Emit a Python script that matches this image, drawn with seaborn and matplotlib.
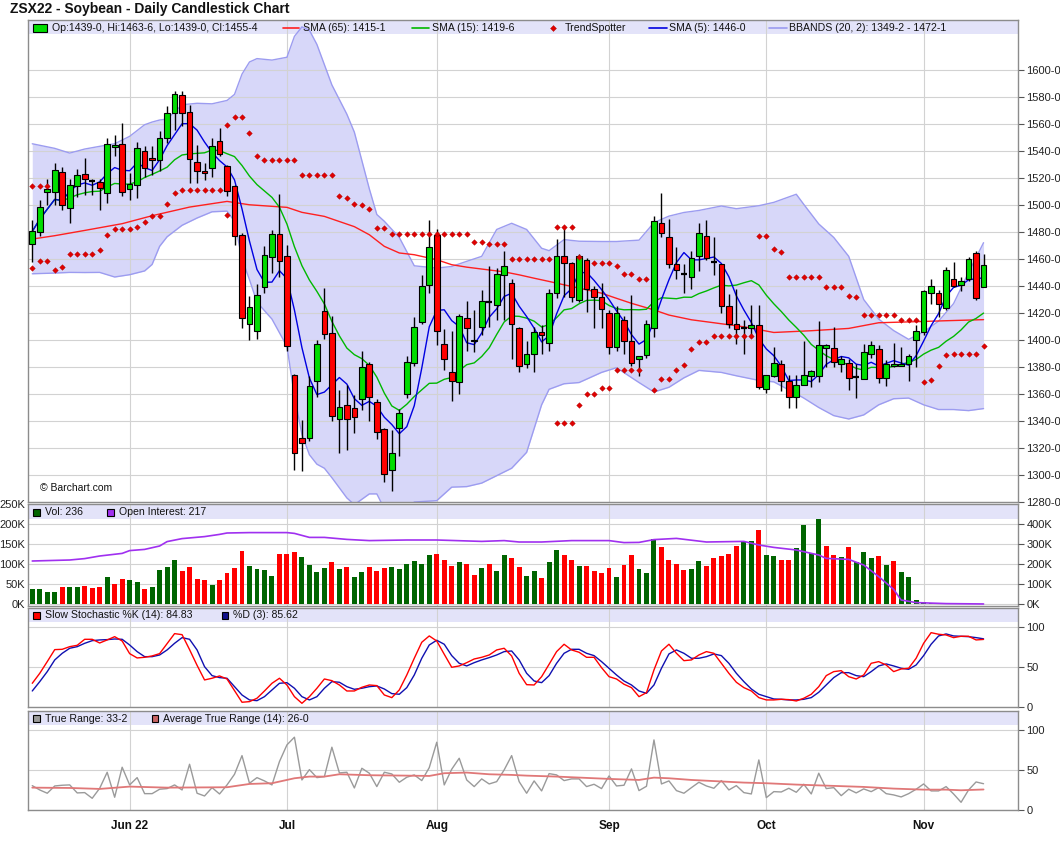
import numpy as np
import pandas as pd
import matplotlib
matplotlib.use("Agg")
import matplotlib.pyplot as plt
import seaborn as sns
from matplotlib.patches import Rectangle
from matplotlib.lines import Line2D

# ---------------- data ----------------
open_ = [1471.3, 1479.7, 1509.6, 1509.4, 1524.4, 1497.8, 1514.3, 1523.0, 1517.5, 1516.8,
         1508.9, 1543.0, 1545.2, 1511.8, 1514.5, 1540.0, 1534.8, 1533.6, 1549.6, 1568.0,
         1581.2, 1569.0, 1532.0, 1525.4, 1527.4, 1547.4, 1528.6, 1513.8, 1477.8, 1412.0,
         1406.9, 1439.3, 1461.5, 1478.5, 1462.2, 1374.0, 1327.4, 1327.4, 1369.3, 1421.7,
         1405.2, 1341.4, 1351.5, 1349.6, 1356.0, 1382.5, 1354.0, 1334.0, 1304.0, 1335.0,
         1360.0, 1383.0, 1413.0, 1441.0, 1478.0, 1397.0, 1376.0, 1369.0, 1416.0, 1399.0,
         1410.0, 1428.4, 1426.0, 1448.0, 1442.0, 1409.0, 1382.0, 1390.0, 1406.0, 1398.0,
         1435.0, 1462.0, 1457.0, 1430.0, 1459.0, 1438.0, 1432.0, 1420.0, 1395.0, 1415.0,
         1399.0, 1386.0, 1389.0, 1409.0, 1487.0, 1476.0, 1456.0, 1449.0, 1447.0, 1462.0,
         1477.0, 1457.5, 1456.0, 1425.0, 1412.0, 1409.0, 1409.0, 1411.0, 1364.0, 1373.0,
         1382.5, 1370.0, 1358.0, 1367.0, 1373.0, 1373.0, 1394.0, 1394.0, 1382.0, 1383.0,
         1372.6, 1371.0, 1390.0, 1393.0, 1372.0, 1381.0, 1381.0, 1382.0, 1400.0, 1406.0,
         1435.0, 1435.0, 1424.0, 1445.0, 1441.0, 1445.0, 1464.5, 1439.0]
high = [1489.0, 1504.0, 1519.5, 1531.0, 1528.0, 1519.5, 1526.6, 1534.8, 1519.5, 1519.5,
        1549.6, 1551.6, 1560.7, 1523.7, 1547.0, 1543.4, 1543.4, 1554.6, 1573.6, 1584.7,
        1584.7, 1574.3, 1544.7, 1531.0, 1549.6, 1557.0, 1530.0, 1515.0, 1479.2, 1432.3,
        1441.7, 1469.4, 1481.2, 1508.0, 1470.6, 1375.0, 1341.0, 1373.0, 1400.2, 1438.5,
        1418.0, 1363.0, 1367.0, 1359.5, 1392.0, 1384.0, 1356.0, 1334.5, 1333.0, 1349.0,
        1388.0, 1417.0, 1448.0, 1489.0, 1482.0, 1408.0, 1407.0, 1419.0, 1429.0, 1422.0,
        1437.0, 1455.0, 1453.0, 1466.0, 1445.0, 1410.0, 1399.0, 1410.0, 1411.0, 1438.0,
        1475.0, 1484.0, 1458.0, 1464.0, 1461.0, 1440.0, 1442.0, 1422.0, 1425.0, 1418.0,
        1433.0, 1388.5, 1415.0, 1492.0, 1509.0, 1490.0, 1469.0, 1456.0, 1466.0, 1487.0,
        1489.0, 1476.0, 1456.0, 1434.0, 1438.0, 1415.0, 1426.0, 1426.0, 1374.0, 1395.0,
        1385.0, 1374.0, 1374.0, 1399.0, 1378.0, 1414.0, 1397.0, 1410.0, 1388.0, 1386.0,
        1382.5, 1397.0, 1399.0, 1396.0, 1385.0, 1398.0, 1395.0, 1390.0, 1411.0, 1437.0,
        1445.0, 1437.0, 1454.0, 1458.0, 1447.0, 1461.5, 1466.0, 1463.75]
low = [1457.5, 1476.8, 1500.0, 1500.0, 1496.5, 1487.0, 1506.0, 1507.6, 1507.6, 1496.0,
       1501.5, 1536.0, 1506.4, 1504.0, 1505.0, 1521.0, 1522.5, 1525.0, 1546.0, 1555.8,
       1558.3, 1516.3, 1516.3, 1518.7, 1521.0, 1536.0, 1506.4, 1470.6, 1409.0, 1400.0,
       1400.7, 1434.8, 1449.6, 1447.0, 1391.6, 1304.0, 1302.7, 1325.0, 1358.0, 1401.0,
       1339.7, 1316.0, 1318.8, 1331.0, 1348.0, 1340.0, 1327.0, 1295.0, 1288.0, 1314.0,
       1357.0, 1381.0, 1412.0, 1435.0, 1396.0, 1378.0, 1355.0, 1360.0, 1392.0, 1391.0,
       1404.0, 1410.0, 1415.0, 1415.0, 1386.0, 1376.0, 1379.0, 1376.0, 1390.0, 1392.0,
       1431.0, 1432.0, 1428.0, 1428.5, 1421.0, 1409.0, 1409.0, 1390.0, 1392.0, 1390.0,
       1381.0, 1373.0, 1387.0, 1402.0, 1476.0, 1453.0, 1445.0, 1435.0, 1438.0, 1451.0,
       1459.0, 1448.0, 1420.0, 1409.0, 1397.0, 1390.0, 1402.0, 1364.0, 1361.0, 1372.6,
       1362.0, 1349.5, 1350.0, 1367.0, 1365.0, 1369.0, 1380.0, 1380.0, 1376.0, 1363.0,
       1357.0, 1371.0, 1387.0, 1368.0, 1366.0, 1380.0, 1381.0, 1370.0, 1380.0, 1404.0,
       1427.0, 1417.0, 1422.0, 1439.0, 1436.0, 1444.0, 1430.0, 1439.0]
close = [1480.5, 1498.5, 1511.8, 1526.0, 1500.0, 1514.5, 1522.0, 1519.3, 1517.5, 1512.6,
         1545.2, 1544.2, 1509.6, 1515.5, 1542.0, 1527.4, 1533.6, 1549.4, 1568.0, 1582.2,
         1568.0, 1534.0, 1525.4, 1523.7, 1543.7, 1538.0, 1510.4, 1477.3, 1416.3, 1424.2,
         1433.0, 1462.7, 1478.5, 1458.3, 1395.3, 1316.2, 1323.6, 1365.7, 1397.0, 1404.7,
         1343.4, 1350.3, 1341.4, 1343.0, 1380.0, 1358.0, 1332.0, 1301.0, 1316.0, 1346.0,
         1384.0, 1410.0, 1440.0, 1469.0, 1407.0, 1386.0, 1370.0, 1418.0, 1409.0, 1400.0,
         1429.0, 1428.4, 1449.0, 1455.0, 1412.0, 1381.0, 1390.0, 1406.0, 1404.0, 1435.0,
         1462.0, 1457.0, 1432.0, 1462.0, 1438.0, 1432.0, 1423.0, 1395.0, 1420.0, 1399.0,
         1383.0, 1388.0, 1412.0, 1488.0, 1479.0, 1456.0, 1452.0, 1449.0, 1461.0, 1479.0,
         1461.0, 1457.5, 1425.0, 1412.0, 1408.0, 1409.0, 1411.0, 1365.0, 1374.0, 1383.0,
         1370.0, 1358.0, 1367.0, 1374.0, 1377.0, 1396.0, 1396.0, 1384.0, 1386.0, 1372.0,
         1372.6, 1391.0, 1396.0, 1372.0, 1382.0, 1382.5, 1382.5, 1388.0, 1407.0, 1436.0,
         1440.0, 1427.0, 1452.0, 1440.0, 1444.0, 1460.0, 1431.0, 1455.5]

# SMA(65), read at sampled bars (1-based bar numbers)
sma65_bars = [1, 4, 8, 13, 17, 22, 27, 30, 35, 37, 40, 44, 46, 48, 50, 52, 55, 57, 59, 61,
              64, 66, 68, 70, 72, 75, 77, 79, 81, 84, 86, 89, 92, 96, 100, 105, 110, 114,
              119, 123, 128]
sma65_vals = [1474.8, 1477.3, 1481.2, 1486.2, 1492.1, 1498.5, 1502.7, 1500.2, 1498.3, 1494.6,
              1491.6, 1484.0, 1478.0, 1469.4, 1464.5, 1463.2, 1459.5, 1455.8, 1454.0, 1452.6,
              1450.5, 1448.3, 1445.8, 1443.4, 1440.9, 1437.2, 1434.7, 1430.9, 1427.2, 1422.3,
              1418.5, 1415.0, 1412.8, 1409.8, 1405.6, 1406.9, 1408.6, 1412.8, 1413.6, 1414.3,
              1415.1]

# Bollinger bands (20, 2), read at sampled bars
bb_bars = [1, 4, 6, 8, 10, 12, 14, 16, 17, 18, 19, 21, 23, 25, 27, 28, 29, 30, 31, 33,
           35, 36, 37, 38, 39, 40, 41, 43, 44, 46, 47, 48, 50, 52, 55, 57, 59, 61, 63, 65,
           67, 69, 70, 72, 74, 77, 79, 82, 84, 86, 88, 90, 93, 95, 98, 100, 103, 104, 106,
           108, 110, 112, 114, 116, 118, 120, 122, 124, 126, 128]
bb_upper = [1545.4, 1542.0, 1538.5, 1541.5, 1543.5, 1545.4, 1550.9, 1559.5, 1561.5, 1563.0,
            1563.7, 1574.3, 1575.4, 1575.0, 1577.5, 1582.0, 1597.0, 1606.0, 1608.5, 1607.4,
            1609.5, 1625.0, 1632.0, 1629.5, 1619.0, 1604.0, 1589.0, 1567.3, 1554.0, 1512.0,
            1493.0, 1488.0, 1476.0, 1455.0, 1453.3, 1454.5, 1458.3, 1462.0, 1481.9, 1486.5,
            1481.9, 1468.0, 1466.2, 1474.4, 1473.2, 1473.0, 1473.0, 1474.0, 1487.0, 1491.8,
            1494.5, 1496.0, 1499.3, 1497.3, 1499.5, 1502.0, 1508.0, 1500.5, 1486.0, 1476.0,
            1462.0, 1430.0, 1415.5, 1407.0, 1400.5, 1406.0, 1414.0, 1427.0, 1450.0, 1472.1]
bb_lower = [1449.1, 1449.6, 1450.1, 1450.0, 1450.1, 1446.7, 1448.4, 1451.2, 1456.0, 1469.4,
            1476.5, 1485.0, 1490.4, 1495.0, 1495.5, 1488.0, 1460.0, 1444.7, 1428.0, 1415.5,
            1395.3, 1358.6, 1330.0, 1315.0, 1308.0, 1305.0, 1298.0, 1283.0, 1278.0, 1286.0,
            1286.0, 1275.0, 1269.0, 1280.0, 1281.0, 1291.0, 1291.4, 1294.0, 1299.5, 1305.0,
            1316.8, 1352.0, 1363.5, 1367.6, 1368.5, 1376.0, 1379.5, 1368.5, 1361.5, 1365.0,
            1372.0, 1377.5, 1376.0, 1373.5, 1370.1, 1369.0, 1360.1, 1357.0, 1350.0, 1344.0,
            1341.5, 1344.5, 1352.0, 1356.5, 1357.0, 1352.0, 1348.5, 1348.5, 1347.7, 1349.2]

# TrendSpotter markers
ts_up_bars = [1, 2, 3, 27, 28, 29, 30, 31, 32, 33, 34, 35, 36, 37, 38, 39, 40, 41, 42, 43,
              44, 45, 46, 47, 48, 49, 50, 51, 52, 53, 54, 55, 56, 57, 58, 59, 60, 61, 62, 63,
              64, 65, 66, 67, 68, 69, 70, 71, 72, 73, 74, 76, 77, 78, 79, 80, 81, 82, 83,
              98, 99, 100, 101, 102, 103, 104, 105, 106, 107, 108, 109, 110, 111, 112, 113,
              114, 115, 116, 117, 118, 119]
ts_up_vals = [1513.8, 1513.8, 1513.8, 1559.5, 1565.2, 1565.2, 1553.3, 1536.0, 1533.3, 1533.3,
              1533.3, 1533.3, 1533.3, 1522.0, 1522.0, 1522.0, 1522.0, 1522.0, 1507.0, 1505.0,
              1500.7, 1500.0, 1497.3, 1483.1, 1483.1, 1478.6, 1478.6, 1478.6, 1478.6, 1478.6,
              1478.6, 1478.6, 1478.6, 1478.6, 1478.6, 1478.6, 1472.7, 1472.7, 1471.2, 1471.2,
              1471.2, 1460.0, 1460.0, 1460.0, 1460.0, 1460.0, 1460.0, 1483.9, 1483.9, 1483.9,
              1461.5, 1457.0, 1457.0, 1457.0, 1454.5, 1448.8, 1448.8, 1445.1, 1445.1,
              1477.4, 1477.4, 1467.5, 1465.5, 1446.6, 1446.6, 1446.6, 1446.6, 1446.6, 1439.1,
              1439.1, 1439.1, 1432.4, 1431.7, 1418.5, 1418.5, 1418.5, 1418.5, 1418.5, 1414.8,
              1414.8, 1414.8]
ts_dn_bars = [1, 2, 3, 4, 5, 6, 7, 8, 9, 10, 11, 12, 13, 14, 15, 16, 17, 18, 19, 20,
              21, 22, 23, 24, 25, 26, 27, 71, 72, 73, 74, 75, 76, 77, 78, 79, 80, 81, 82,
              84, 85, 86, 87, 88, 89, 90, 91, 92, 93, 94, 95, 96, 97,
              120, 121, 122, 123, 124, 125, 126, 127, 128]
ts_dn_vals = [1453.3, 1458.3, 1458.3, 1451.6, 1454.1, 1463.5, 1463.5, 1463.5, 1463.5, 1466.4,
              1477.8, 1482.2, 1482.2, 1482.2, 1483.7, 1487.2, 1491.6, 1491.6, 1500.7, 1508.6,
              1511.1, 1511.1, 1511.1, 1511.1, 1511.1, 1511.1, 1492.4, 1338.7, 1338.7, 1338.7,
              1352.2, 1359.7, 1359.7, 1364.6, 1364.6, 1378.0, 1378.0, 1378.0, 1378.0,
              1363.1, 1371.3, 1371.3, 1378.0, 1381.3, 1393.2, 1398.9, 1398.9, 1402.9, 1402.9,
              1402.9, 1402.9, 1402.9, 1402.9,
              1368.6, 1370.1, 1380.5, 1388.7, 1390.0, 1390.0, 1390.0, 1390.0, 1395.7]

# Volume (thousands) and up/down flag
volume_k = [36.7, 36.7, 29, 29, 41.7, 41.7, 41.7, 44, 39, 41.7,
            66.7, 49, 61.7, 59, 54, 36.7, 41.7, 84, 91.7, 109,
            81.7, 91.7, 61.7, 59, 46.7, 59, 76.7, 89, 131.7, 94,
            86.7, 84, 69, 124, 124, 129, 116.7, 96.7, 79, 89,
            104, 86.7, 91.7, 66.7, 79, 91.7, 81.7, 89, 91.7, 86.7,
            99, 106.7, 99, 121.7, 124, 109, 94, 104, 99, 71.7,
            89, 99, 81.7, 121.7, 114, 91.7, 69, 82.5, 65, 105.8,
            135, 122.5, 110, 95, 95, 82.5, 77.5, 90, 67.5, 97.5,
            122.5, 87.5, 77.5, 162.5, 142.5, 110, 100, 85, 87.5, 107.5,
            95, 115, 120, 125, 145, 155, 157.5, 185, 122.5, 120,
            110, 110, 140, 197.5, 126.7, 212.5, 145, 122.5, 117.5, 142.5,
            105, 130, 115, 120, 97.5, 107.5, 80, 67.5, 10, 5,
            2.5, 1.2, 0.8, 2.5, 0.6, 0.5, 0.5, 0.24]
volume_up = [1, 1, 1, 1, 0, 1, 1, 0, 0, 0,
             1, 0, 0, 1, 1, 0, 1, 1, 1, 1,
             0, 0, 0, 0, 1, 0, 0, 0, 0, 1,
             1, 1, 1, 0, 0, 0, 1, 1, 1, 1,
             0, 1, 0, 1, 1, 0, 0, 0, 1, 1,
             1, 1, 1, 1, 0, 0, 0, 1, 0, 0,
             1, 0, 1, 1, 0, 0, 1, 1, 0, 1,
             1, 0, 0, 1, 0, 0, 0, 0, 1, 0,
             0, 1, 1, 1, 0, 0, 0, 0, 1, 1,
             0, 0, 0, 0, 0, 1, 1, 0, 1, 1,
             0, 0, 1, 1, 1, 1, 0, 0, 1, 0,
             1, 1, 1, 0, 1, 0, 1, 1, 1, 1,
             1, 1, 1, 0, 1, 1, 0, 1]

# Open interest (thousands), read at sampled bars
oi_bars = [1, 6, 8, 10, 13, 14, 16, 18, 19, 21, 24, 26, 27, 30, 35, 36, 38, 40, 43, 46,
           51, 55, 61, 64, 66, 69, 73, 78, 80, 82, 84, 87, 91, 96, 98, 100, 103, 106, 107,
           110, 112, 114, 116, 117, 119, 123, 128]
oi_k = [215, 220, 227, 240, 253, 267, 273, 290, 312, 327, 337, 348, 355, 357, 357, 353, 333,
        333, 323, 317, 320, 320, 313, 317, 310, 310, 317, 317, 307, 308, 322, 328, 310, 313,
        295, 283, 270, 245, 228, 223, 195, 137, 73, 20, 7, 2, 0.2]

# Slow stochastic
stoch_k = [30.0, 42.5, 57.1, 72.1, 72.5, 75.8, 77.5, 85.0, 85.0, 80.4,
           84.2, 88.3, 82.9, 67.1, 61.7, 62.5, 64.2, 67.1, 79.6, 92.1,
           90.8, 72.1, 52.5, 34.2, 36.3, 39.2, 35.4, 20.8, 6.3, 7.1,
           11.3, 20.4, 30.0, 36.3, 27.9, 13.3, 5.0, 13.3, 23.8, 35.4,
           33.3, 27.9, 20.4, 20.4, 25.0, 27.9, 27.1, 15.4, 12.1, 21.7,
           40.4, 61.3, 81.3, 89.2, 82.9, 66.3, 50.0, 51.7, 55.8, 60.4,
           62.5, 65.4, 71.7, 73.8, 64.2, 42.5, 28.3, 27.9, 38.3, 53.8,
           69.6, 78.8, 71.7, 68.8, 62.5, 62.5, 49.6, 38.3, 35.4, 28.8,
           24.6, 13.3, 18.3, 46.7, 70.4, 78.8, 67.5, 58.3, 59.2, 65.4,
           69.6, 67.5, 55.0, 42.5, 31.3, 24.6, 20.4, 12.1, 9.2, 9.2,
           10.0, 9.6, 7.9, 11.3, 16.3, 25.8, 39.6, 44.6, 45.8, 38.3,
           35.4, 40.4, 55.0, 57.1, 52.9, 44.6, 47.9, 48.8, 61.3, 80.0,
           93.3, 91.3, 90.4, 87.1, 88.8, 88.8, 84.2, 84.83]
stoch_d = [20.4, 32.1, 44.6, 59.2, 67.5, 73.8, 75.8, 80.0, 83.3, 84.2,
           84.6, 85.4, 85.0, 77.9, 69.6, 63.3, 63.3, 65.4, 71.7, 80.0,
           87.1, 85.0, 71.7, 50.8, 39.6, 37.1, 36.3, 25.8, 15.4, 9.2,
           8.3, 13.3, 21.7, 30.0, 30.8, 23.8, 13.3, 9.2, 13.3, 23.8,
           32.1, 31.3, 25.8, 22.5, 23.8, 25.8, 26.7, 22.9, 17.1, 16.3,
           24.6, 40.4, 61.3, 77.9, 83.8, 78.8, 64.6, 55.0, 51.7, 55.8,
           59.2, 62.1, 65.4, 69.6, 70.4, 59.2, 42.5, 32.9, 30.8, 39.6,
           55.0, 67.5, 72.5, 72.5, 67.5, 64.6, 57.1, 48.8, 40.4, 32.9,
           27.9, 20.4, 17.5, 27.9, 48.8, 66.7, 71.7, 67.5, 61.3, 61.3,
           63.3, 66.7, 64.6, 55.0, 42.5, 32.1, 22.9, 16.3, 13.3, 10.4,
           10.0, 9.2, 9.2, 10.0, 12.1, 18.8, 27.9, 37.1, 43.3, 43.3,
           39.6, 38.3, 44.6, 51.7, 54.2, 51.7, 48.8, 47.5, 52.9, 64.6,
           78.8, 89.2, 91.7, 89.2, 88.8, 88.3, 87.1, 85.62]

# True range and ATR
true_range = [30.8, 25.4, 21.3, 30.4, 31.3, 31.7, 21.7, 22.1, 15.0, 27.5,
              47.5, 16.3, 53.8, 31.7, 40.8, 20.8, 20.8, 26.3, 27.1, 31.7,
              25.4, 57.5, 21.3, 17.9, 28.3, 20.4, 31.7, 45.0, 68.3, 33.8,
              40.8, 36.7, 31.7, 60.8, 81.7, 91.3, 37.9, 50.8, 40.8, 42.1,
              78.8, 46.7, 47.5, 27.9, 52.5, 46.3, 29.6, 47.5, 45.4, 35.0,
              41.3, 44.2, 37.1, 53.3, 85.0, 31.7, 51.3, 65.0, 37.9, 29.6,
              39.2, 32.9, 35.8, 50.4, 68.3, 35.8, 21.3, 36.7, 24.2, 45.8,
              44.2, 37.1, 39.2, 39.2, 29.6, 32.5, 27.1, 42.9, 30.4, 31.3,
              51.7, 24.6, 30.0, 87.9, 32.9, 36.7, 24.6, 21.3, 28.3, 35.0,
              30.4, 27.5, 37.1, 25.4, 30.8, 22.1, 20.4, 62.9, 15.8, 23.3,
              22.9, 27.5, 22.5, 32.5, 20.4, 46.3, 27.1, 28.3, 18.3, 26.3,
              21.7, 26.7, 23.3, 28.3, 20.8, 19.2, 16.7, 20.8, 26.3, 32.9,
              24.2, 24.2, 29.6, 20.4, 10.0, 25.4, 35.4, 33.2]
atr_bars = [1, 6, 10, 14, 19, 27, 30, 33, 36, 38, 40, 42, 46, 51, 54, 56, 59, 62, 65, 67,
            71, 78, 82, 84, 86, 89, 96, 99, 103, 107, 112, 116, 120, 123, 125, 128]
atr_vals = [28.3, 27.9, 26.7, 29.6, 28.3, 28.8, 32.9, 33.8, 40.0, 42.1, 42.1, 45.0, 43.8,
            43.3, 42.9, 46.3, 47.1, 45.0, 44.2, 43.3, 42.1, 39.2, 37.9, 40.8, 40.0, 37.9,
            34.6, 33.8, 32.1, 30.8, 29.2, 27.1, 25.8, 25.8, 25.0, 26.0]

month_ticks = [13, 34, 54, 77, 98, 119]
month_labels = ["Jun 22", "Jul", "Aug", "Sep", "Oct", "Nov"]

# ---------------- styling ----------------
sns.set_theme(style="white")
plt.rcParams['font.family'] = ['Liberation Sans', 'DejaVu Sans']

C_UP = "#00dd00"
C_DN = "#ff0000"
C_VUP = "#006400"
C_GRID = "#d2d2d2"
C_SPINE = "#8c8c8c"
C_BAND = "#e3e3f9"
C_BBFILL = "#cfcff8"
C_BBEDGE = "#9c9cf0"

W, H = 1060, 851
fig = plt.figure(figsize=(W / 100, H / 100), dpi=100)
fig.patch.set_facecolor("white")

def fx(px):
    return px / W

def fy(py):
    return 1 - py / H

LEFT, RIGHT = 28, 1018

def make_ax(top, bottom):
    return fig.add_axes([fx(LEFT), fy(bottom), fx(RIGHT) - fx(LEFT), (bottom - top) / H])

ax_p = make_ax(20, 502)
ax_v = make_ax(504, 606)
ax_s = make_ax(607.7, 707.3)
ax_t = make_ax(711, 810.3)

n = len(close)
x = np.arange(n)
XL = (-0.57, 131.6)

def base_style(ax, band_px, total_px):
    ax.set_xlim(*XL)
    ax.set_facecolor("white")
    ax.set_axisbelow(True)
    ax.grid(True, color=C_GRID, lw=0.8)
    for s in ax.spines.values():
        s.set_color(C_SPINE)
        s.set_linewidth(1.0)
    ax.set_xticks(month_ticks)
    ax.tick_params(axis="x", length=0, labelbottom=False)
    frac = band_px / total_px
    ax.add_patch(Rectangle((0, 1 - frac), 1, frac, transform=ax.transAxes,
                           facecolor=C_BAND, edgecolor="none", zorder=0.1))

def line(ax, xs, ys, color, lw=1.0, z=2):
    sns.lineplot(x=np.asarray(xs, dtype=float), y=np.asarray(ys, dtype=float), ax=ax,
                 color=color, lw=lw, legend=False, estimator=None, sort=False, zorder=z)

# ---------------- price panel ----------------
base_style(ax_p, 14, 482)
ax_p.set_ylim(1280, 1637.1)
ax_p.yaxis.tick_right()
pt = list(range(1280, 1601, 20))
ax_p.set_yticks(pt)
ax_p.set_yticklabels([f"{v}-0" for v in pt])
ax_p.tick_params(axis="y", right=True, length=4, width=0.8, color="#555555",
                 labelsize=8, labelcolor="#222222", pad=2)

bbx = np.array(bb_bars) - 1
ax_p.fill_between(bbx, bb_lower, bb_upper, color=C_BBFILL, alpha=0.82, lw=0, zorder=0.3)
line(ax_p, bbx, bb_upper, C_BBEDGE, 1.0, 1)
line(ax_p, bbx, bb_lower, C_BBEDGE, 1.0, 1)

cs = pd.Series(close, dtype=float)
sma5 = cs.rolling(5, min_periods=1).mean()
sma15 = cs.rolling(15, min_periods=1).mean()
line(ax_p, np.array(sma65_bars) - 1, sma65_vals, "#ff2020", 1.0, 2)
line(ax_p, x, sma15, "#00b800", 1.0, 2)
line(ax_p, x, sma5, "#0000e0", 1.0, 2)

o = np.array(open_); c = np.array(close); hi = np.array(high); lo = np.array(low)
ax_p.vlines(x, lo, hi, color="black", lw=1.0, zorder=3)
body_lo = np.minimum(o, c)
body_h = np.abs(c - o)
is_doji = body_h < 0.6
cols = np.where(c > o, C_UP, C_DN)
ax_p.bar(x[~is_doji], body_h[~is_doji], bottom=body_lo[~is_doji], width=0.76,
         color=cols[~is_doji], edgecolor="black", linewidth=0.8, zorder=3.2)
ax_p.hlines(c[is_doji], x[is_doji] - 0.4, x[is_doji] + 0.4, color="black", lw=1.6, zorder=3.2)

ts_df = pd.DataFrame({"bar": np.concatenate([np.array(ts_up_bars), np.array(ts_dn_bars)]) - 1,
                      "val": np.concatenate([ts_up_vals, ts_dn_vals])})
sns.scatterplot(data=ts_df, x="bar", y="val", ax=ax_p, marker="D", s=8, color="#e00000",
                edgecolor="#b00000", linewidth=0.3, legend=False, zorder=4)
ax_p.set_xlabel(""); ax_p.set_ylabel("")

# ---------------- volume panel ----------------
base_style(ax_v, 15, 102)
ax_v.set_ylim(-5000, 250000)
vt = [0, 50000, 100000, 150000, 200000, 250000]
ax_v.set_yticks(vt)
ax_v.set_yticklabels([f"{v // 1000}K" for v in vt])
ax_v.tick_params(axis="y", left=True, length=0, labelsize=8, labelcolor="#222222", pad=2)
vol = np.array(volume_k) * 1000
vcols = np.where(np.array(volume_up) == 1, C_VUP, C_DN)
ax_v.bar(x, vol, width=0.66, color=vcols, lw=0, zorder=2)
ax_v2 = ax_v.twinx()
ax_v2.set_xlim(*XL)
ax_v2.set_ylim(-10000, 500000)
ot = [0, 100000, 200000, 300000, 400000]
ax_v2.set_yticks(ot)
ax_v2.set_yticklabels([f"{v // 1000}K" for v in ot])
ax_v2.tick_params(axis="y", right=True, length=4, width=0.8, color="#555555",
                  labelsize=8, labelcolor="#222222", pad=2)
ax_v2.grid(False)
for s in ax_v2.spines.values():
    s.set_visible(False)
line(ax_v2, np.array(oi_bars) - 1, np.array(oi_k) * 1000, "#a030f0", 1.2, 3)
ax_v.set_xlabel(""); ax_v.set_ylabel(""); ax_v2.set_ylabel("")

# ---------------- stochastic panel ----------------
base_style(ax_s, 14, 99.6)
ax_s.set_ylim(0, 124.5)
ax_s.yaxis.tick_right()
ax_s.set_yticks([0, 50, 100])
ax_s.tick_params(axis="y", right=True, length=4, width=0.8, color="#555555",
                 labelsize=8, labelcolor="#222222", pad=2)
line(ax_s, x, stoch_d, "#1010b0", 1.0, 2)
line(ax_s, x, stoch_k, "#ff0000", 1.0, 2.1)
ax_s.set_xlabel(""); ax_s.set_ylabel("")

# ---------------- true range panel ----------------
base_style(ax_t, 14, 99.3)
ax_t.set_ylim(0, 124)
ax_t.yaxis.tick_right()
ax_t.set_yticks([0, 50, 100])
ax_t.tick_params(axis="y", right=True, length=4, width=0.8, color="#555555",
                 labelsize=8, labelcolor="#222222", pad=2)
line(ax_t, x, true_range, "#9a9a9a", 1.0, 2)
line(ax_t, np.array(atr_bars) - 1, atr_vals, "#e07878", 1.3, 2.1)
ax_t.set_xticklabels(month_labels, fontsize=8.5, fontweight="bold", color="#111111")
ax_t.tick_params(axis="x", labelbottom=True, length=0, pad=7)
ax_t.set_xlabel(""); ax_t.set_ylabel("")

# ---------------- legends / titles (figure pixel coords) ----------------
def ftext(px, py, s, size=7.6, **kw):
    fig.text(fx(px), fy(py), s, va="center", ha="left", fontsize=size, color="#111111", **kw)

def fline(x0, x1, py, color, lw=1.2):
    fig.add_artist(Line2D([fx(x0), fx(x1)], [fy(py), fy(py)], color=color, lw=lw,
                          transform=fig.transFigure))

def fsq(x0, x1, y0, y1, fc):
    fig.add_artist(Rectangle((fx(x0), fy(y1)), fx(x1) - fx(x0), fy(y0) - fy(y1),
                             transform=fig.transFigure, facecolor=fc, edgecolor="black", lw=0.8))

fig.text(fx(10), fy(8.5), "ZSX22 - Soybean - Daily Candlestick Chart", va="center", ha="left",
         fontsize=10, fontweight="bold", color="#111111")

ly = 28.3
fsq(33, 47, 24.5, 31.5, C_UP)
ftext(52, ly, "Op:1439-0, Hi:1463-6, Lo:1439-0, Cl:1455-4")
fline(283, 299, ly, "#ff2020")
ftext(303, ly, "SMA (65): 1415-1")
fline(412, 429, ly, "#00b800")
ftext(432, ly, "SMA (15): 1419-6")
fig.add_artist(Line2D([fx(553)], [fy(ly)], marker="D", ms=3.0, color="#e00000",
                      markeredgecolor="#b00000", markeredgewidth=0.3, transform=fig.transFigure))
ftext(565, ly, "TrendSpotter")
fline(649, 667, ly, "#0000e0")
ftext(669, ly, "SMA (5): 1446-0")
fline(769, 787, ly, C_BBEDGE)
ftext(789, ly, "BBANDS (20, 2): 1349-2 - 1472-1")

vy = 512.3
fsq(33, 40, vy - 3.5, vy + 3.5, C_VUP)
ftext(45, vy, "Vol: 236")
fsq(107, 114, vy - 3.5, vy + 3.5, "#a030f0")
ftext(119, vy, "Open Interest: 217")

sy = 615
fsq(33, 40, sy - 3.5, sy + 3.5, "#ff0000")
ftext(45, sy, "Slow Stochastic %K (14): 84.83")
fsq(221.7, 228.3, sy - 3.5, sy + 3.5, "#10108a")
ftext(232.7, sy, "%D (3): 85.62")

ty = 718.5
fsq(33, 40, ty - 3.5, ty + 3.5, "#9a9a9a")
ftext(45, ty, "True Range: 33-2")
fsq(151.7, 158.3, ty - 3.5, ty + 3.5, "#c86464")
ftext(162.7, ty, "Average True Range (14): 26-0")

ftext(40, 488, "\u00a9 Barchart.com", size=7.5)

fig.savefig("out.png", dpi=100, facecolor="white")
